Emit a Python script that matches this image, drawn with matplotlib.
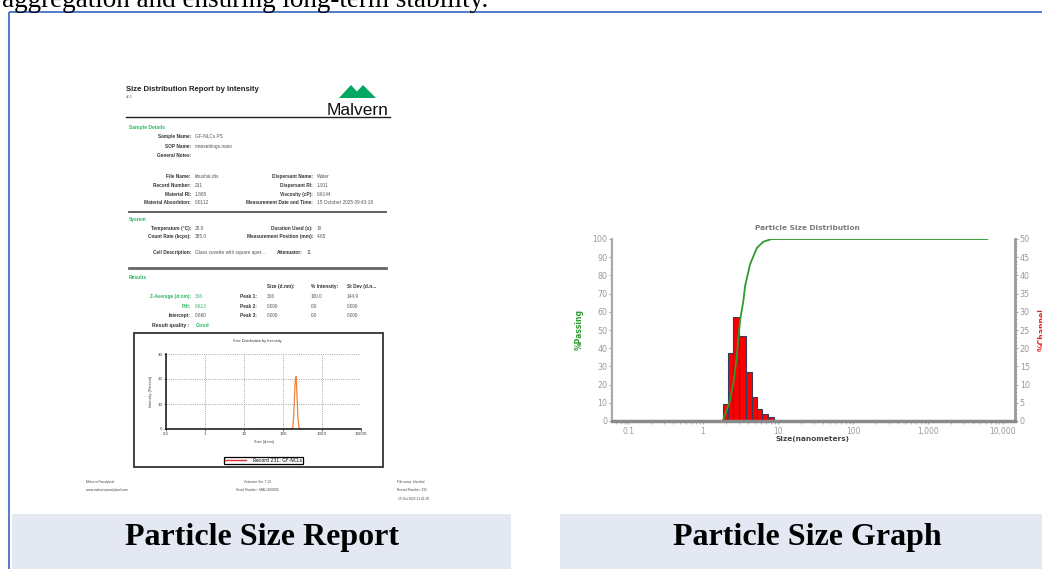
import matplotlib
matplotlib.use('Agg')
import matplotlib.pyplot as plt
from matplotlib.patches import Rectangle, Polygon
from matplotlib.lines import Line2D
from matplotlib.ticker import FixedLocator, MultipleLocator, NullFormatter, LogLocator

# ---------------- data ----------------
# Right graph: channel histogram (bin edges in nm, % channel)
bin_edges = [1.83, 2.17, 2.54, 3.05, 3.71, 4.47, 5.20, 6.17, 7.43, 8.84]
channel_pct = [4.6, 18.8, 28.7, 23.4, 13.5, 6.6, 3.2, 1.9, 1.0]
# cumulative % passing curve
passing_size = [0.94, 1.83, 2.07, 2.29, 2.54, 2.81, 3.11, 3.45, 3.63, 4.23, 5.20, 6.37, 8.24, 6200]
passing_pct = [0, 0, 6, 11.5, 21, 35, 55, 66, 74, 86, 95, 98.5, 100, 100]
# red zero channel line
zero_size = [0.8, 6500]
zero_pct = [0, 0]
x_ticks = [0.1, 1, 10, 100, 1000, 10000]
x_ticklabels = ['0.1', '1', '10', '100', '1,000', '10,000']
left_ticks = list(range(0, 101, 10))
right_ticks = list(range(0, 51, 5))

# Report: intensity distribution
dist_size = [15, 160, 178, 188, 197, 207, 217, 228, 240, 255, 280, 500]
dist_int = [0, 0, 0.5, 5, 13, 20, 21, 14, 5, 0.8, 0, 0]
rep_x_ticks = [0.1, 1, 10, 100, 1000, 10000]
rep_x_labels = ['0.1', '1', '10', '100', '1000', '10000']
rep_y_ticks = [0, 10, 20, 30]

W, H = 1042, 569
fig = plt.figure(figsize=(W / 100, H / 100), dpi=100)
bg = fig.add_axes([0, 0, 1, 1])
bg.set_xlim(0, W)
bg.set_ylim(H, 0)
bg.axis('off')


def ax_rect(x0, y0, x1, y1):
    return [x0 / W, 1 - y1 / H, (x1 - x0) / W, (y1 - y0) / H]


SERIF = 'Liberation Serif'
SANS = 'Liberation Sans'

# top cut text
bg.text(2, 7, 'aggregation and ensuring long-term stability.', family=SERIF,
        fontsize=19.5, ha='left', va='baseline', color='black')
# blue frame
bg.plot([9, 9], [12, 569], color='#4472C4', lw=1.3, solid_capstyle='butt')
bg.plot([9, 1042], [12, 12], color='#4472C4', lw=1.3, solid_capstyle='butt')

# caption bands
bg.add_patch(Rectangle((12, 514), 499, 56, fc='#E4E8F2', ec='none'))
bg.add_patch(Rectangle((560, 514), 482, 56, fc='#E4E8F2', ec='none'))
bg.text(262, 538, 'Particle Size Report', family=SERIF, weight='bold',
        fontsize=23, ha='center', va='center')
bg.text(807, 538, 'Particle Size Graph', family=SERIF, weight='bold',
        fontsize=23, ha='center', va='center')

# ---------------- report page ----------------
GREEN = '#2DB562'
LAB = '#333333'
VAL = '#555555'
FS = 3.4

bg.text(126, 89, 'Size Distribution Report by Intensity', family=SANS,
        weight='bold', fontsize=5.6, ha='left', va='center', color='#222')
bg.text(126, 97, 'v2.2', family=SANS, fontsize=2.5, ha='left', va='center', color='#555')
bg.add_patch(Polygon([(339, 98), (351, 85), (363, 98)], closed=True, fc='#00A862', ec='none'))
bg.add_patch(Polygon([(351, 98), (363, 85), (376, 98)], closed=True, fc='#00A862', ec='none'))
bg.text(358, 115, 'Malvern', family=SANS, fontsize=12.5, ha='center', va='baseline', color='#111')
bg.plot([126, 390], [117, 117], color='#222', lw=1)


def heading(y, s):
    bg.text(129, y, s, family=SANS, weight='bold', fontsize=3.6,
            ha='left', va='center', color=GREEN)


def row(xl, xv, y, lab, val, lc=LAB, vc=VAL):
    bg.text(xl, y, lab, family=SANS, weight='bold', fontsize=FS, ha='right', va='center', color=lc)
    if val:
        bg.text(xv, y, val, family=SANS, fontsize=FS, ha='left', va='center', color=vc)


heading(127, 'Sample Details')
left_rows = [('Sample Name:', 'GF-NLCs PS', 136), ('SOP Name:', 'mansettings.nano', 146),
             ('General Notes:', '', 155), ('File Name:', 'khushal.dts', 176),
             ('Record Number:', '231', 185), ('Material RI:', '1.865', 194),
             ('Material Absorbtion:', '0.0112', 202)]
for lab, val, y in left_rows:
    row(191, 195, y, lab, val)
right_rows = [('Dispersant Name:', 'Water', 176), ('Dispersant RI:', '1.911', 185),
              ('Viscosity (cP):', '0.6144', 194),
              ('Measurement Date and Time:', '15 October 2025 09:43:18', 202)]
for lab, val, y in right_rows:
    row(313, 317, y, lab, val)
bg.plot([129, 386], [212, 212], color='#555', lw=1.3)

heading(219, 'System')
row(191, 195, 228, 'Temperature (°C):', '25.0')
row(313, 317, 228, 'Duration Used (s):', '10')
row(191, 195, 236, 'Count Rate (kcps):', '355.0')
row(313, 317, 236, 'Measurement Position (mm):', '4.65')
row(191, 195, 252, 'Cell Description:', 'Glass cuvette with square aper...')
row(303, 307, 252, 'Attenuator:', '11')
bg.plot([129, 386], [268, 268], color='#666', lw=2)

heading(277, 'Results')
for x, s in [(267, 'Size (d.nm):'), (311, '% Intensity:'), (347, 'St Dev (d.n...')]:
    bg.text(x, 286, s, family=SANS, weight='bold', fontsize=FS, ha='left', va='center', color=LAB)
res_rows = [('Z-Average (d.nm):', '316', GREEN, 296), ('PdI:', '0.613', GREEN, 306),
            ('Intercept:', '0.860', None, 315)]
for lab, val, c, y in res_rows:
    if c:
        row(191, 195, y, lab, val, lc=c, vc=c)
    else:
        row(191, 195, y, lab, val)
peak_sizes = ['316', '0.000', '0.000']
peak_ints = ['100.0', '0.0', '0.0']
peak_sd = ['144.9', '0.000', '0.000']
for i, y in enumerate([296, 306, 315]):
    bg.text(257, y, f'Peak {i + 1}:', family=SANS, weight='bold', fontsize=FS, ha='right', va='center', color=LAB)
    for x, s in [(267, peak_sizes[i]), (311, peak_ints[i]), (347, peak_sd[i])]:
        bg.text(x, y, s, family=SANS, fontsize=FS, ha='left', va='center', color=VAL)
bg.text(189, 325, 'Result quality :', family=SANS, weight='bold', fontsize=3.7, ha='right', va='center', color=LAB)
bg.text(196, 325, 'Good', family=SANS, weight='bold', fontsize=3.7, ha='left', va='center', color=GREEN)

# inner chart box
bg.add_patch(Rectangle((134, 333), 249, 134, fill=False, ec='#333', lw=1.3))
bg.text(257, 341, 'Size Distribution by Intensity', family=SANS, fontsize=2.8,
        ha='center', va='center', color='#333')

axI = fig.add_axes(ax_rect(166, 354, 361, 429))
axI.set_xscale('log')
axI.set_xlim(0.1, 10000)
axI.set_ylim(0, 30)
axI.plot(dist_size, dist_int, color='#F0823A', lw=0.9)
axI.xaxis.set_major_locator(FixedLocator(rep_x_ticks))
axI.set_xticklabels(rep_x_labels)
axI.xaxis.set_minor_locator(FixedLocator([]))
axI.set_yticks(rep_y_ticks)
axI.grid(True, ls=':', color='#888', lw=0.6)
for s in ['top', 'right']:
    axI.spines[s].set_visible(False)
for s in ['left', 'bottom']:
    axI.spines[s].set_color('#222')
    axI.spines[s].set_linewidth(1.2)
axI.tick_params(labelsize=2.8, length=1.2, width=0.5, pad=1.2, colors='#333')
axI.set_xlabel('Size (d.nm)', fontsize=2.8, family=SANS, color='#333')
axI.xaxis.set_label_coords(0.5, -0.14)
axI.set_ylabel('Intensity (Percent)', fontsize=2.8, family=SANS, color='#333')
axI.yaxis.set_label_coords(-0.067, 0.5)
axI.set_axisbelow(True)

leg = fig.legend(handles=[Line2D([], [], color='#E03030', lw=1)], labels=['Record 231: GF-NCLs'],
                 loc='center', bbox_to_anchor=(263.5 / W, 1 - 460.5 / H), fontsize=3.3,
                 frameon=True, fancybox=False, edgecolor='black', framealpha=1,
                 borderpad=0.25, handlelength=4.5, handletextpad=1.5)
leg.get_frame().set_linewidth(0.9)

# footer
FF = 2.3
for x, y, s, ha in [(86, 482, 'Malvern Panalytical', 'left'), (86, 490, 'www.malvernpanalytical.com', 'left'),
                    (257, 482, 'Zetasizer Ver. 7.13', 'center'), (257, 490, 'Serial Number : MAL1056096', 'center'),
                    (397, 482, 'File name: khushal', 'left'), (397, 490, 'Record Number: 231', 'left'),
                    (398, 499, '15 Oct 2025 21:41:05', 'left')]:
    bg.text(x, y, s, family=SANS, fontsize=FF, ha=ha, va='center', color='#444')

# ---------------- right graph ----------------
ax = fig.add_axes(ax_rect(612, 239, 1015, 421))
tw = ax.twinx()
ax.set_zorder(tw.get_zorder() + 1)
ax.patch.set_visible(False)

tw.bar(bin_edges[:-1], channel_pct,
       width=[bin_edges[i + 1] - bin_edges[i] for i in range(len(channel_pct))],
       align='edge', color='#FF0000', edgecolor='#3A3A5C', lw=0.8, zorder=3)
tw.plot(zero_size, zero_pct, color='#E84848', lw=1.8, zorder=2, solid_capstyle='butt')
ax.plot(passing_size, passing_pct, color='#2E9B2E', lw=1.3)

ax.set_xscale('log')
ax.set_xlim(0.061, 14500)
ax.set_ylim(0, 100)
tw.set_ylim(0, 50)
ax.xaxis.set_major_locator(FixedLocator(x_ticks))
ax.set_xticklabels(x_ticklabels)
ax.xaxis.set_minor_locator(LogLocator(base=10, subs=range(2, 10)))
ax.xaxis.set_minor_formatter(NullFormatter())
ax.set_yticks(left_ticks)
ax.yaxis.set_minor_locator(MultipleLocator(2))
tw.set_yticks(right_ticks)
tw.yaxis.set_minor_locator(MultipleLocator(1))

for s in ['top', 'right']:
    ax.spines[s].set_visible(False)
ax.spines['left'].set_color('#aaaaaa')
ax.spines['left'].set_linewidth(1.5)
ax.spines['bottom'].set_color('#8a8a8a')
ax.spines['bottom'].set_linewidth(2.5)
for s in ['top', 'left', 'bottom']:
    tw.spines[s].set_visible(False)
tw.spines['right'].set_color('#999999')
tw.spines['right'].set_linewidth(2)

ax.tick_params(axis='x', which='major', labelsize=5.5, labelcolor='#999999', color='#aaaaaa', length=2, pad=2.5)
ax.tick_params(axis='x', which='minor', color='#aaaaaa', length=2, width=0.6)
ax.tick_params(axis='y', which='major', labelsize=5.8, labelcolor='#999999', color='#aaaaaa', length=2, pad=1.5)
ax.tick_params(axis='y', which='minor', color='#aaaaaa', length=1.2, width=0.5)
tw.tick_params(axis='y', which='major', labelsize=5.8, labelcolor='#999999', color='#aaaaaa', length=2, pad=1.5)
tw.tick_params(axis='y', which='minor', color='#aaaaaa', length=1.2, width=0.5)

ax.text((807 - 612) / 403, 1 + (239 - 228) / 182, 'Particle Size Distribution', transform=ax.transAxes,
        ha='center', va='center', fontsize=5.3, weight='bold', color='#7a7a7a')
ax.set_xlabel('Size(nanometers)', fontsize=5.3, weight='bold', color='#444444')
ax.xaxis.set_label_coords((812 - 612) / 403, -(436 - 421) / 182)
ax.set_ylabel('%Passing', fontsize=5.5, weight='bold', color='#2E9B2E')
ax.yaxis.set_label_coords((584 - 612) / 403, 0.5)
tw.set_ylabel('%Channel', fontsize=5.5, weight='bold', color='#EE2222', rotation=90)
tw.yaxis.set_label_coords((1038 - 612) / 403, 0.5)

fig.savefig('out.png', dpi=100)
